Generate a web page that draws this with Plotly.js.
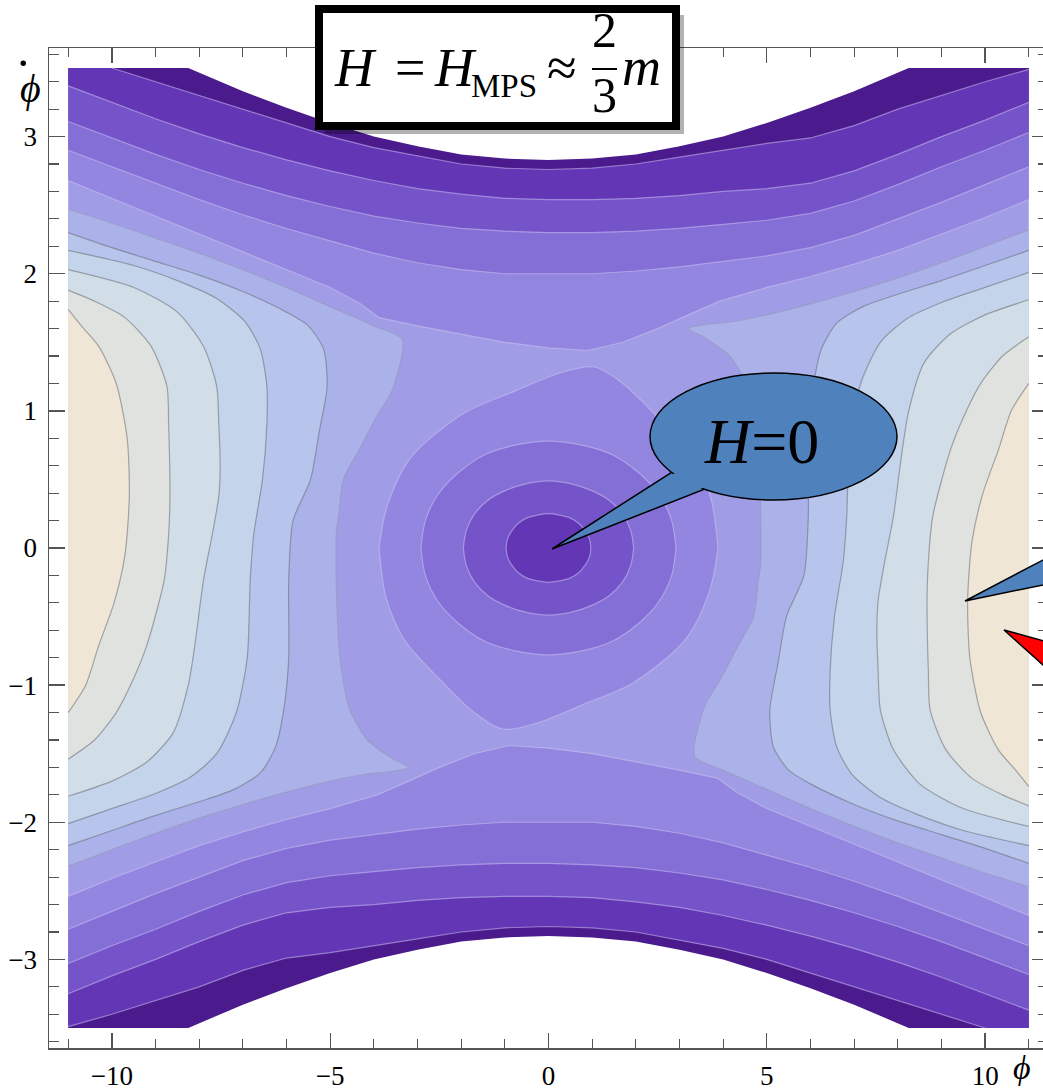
<!DOCTYPE html>
<html><head><meta charset="utf-8">
<script src="https://cdn.plot.ly/plotly-3.0.1.min.js"></script>
<style>html,body{margin:0;padding:0;overflow:hidden;background:#fff}</style>
</head><body><div id="chart"></div>
<script>
// ---------------- data: (phi, phidot) ----------------
const domainPhi = [-11, 11];
const domainPhiDot = [-3.5, 3.5];

// upper edge of the computed region (white above); lower edge is its reflection
const boundaryPhi    = [-8.25,-7,-6,-5,-4,-3,-2,-1,0,1,2,3,4,5,6,7,8.25];
const boundaryPhiDot = [3.5,3.33,3.21,3.1,3.0,2.93,2.87,2.84,2.83,2.84,2.87,2.93,3.0,3.1,3.21,3.33,3.5];

// upper cap contours; the lower ones are the point reflections (phi,phidot)->(-phi,-phidot)
const capLevels = [-0.5, -1.5, -2.5, -3.5, -4.5];
const capPhi = [
  [-11,-10,-9,-8,-7,-6,-5,-4.3,-3.88,-3,-2,-1,0,0.9,1.7,2.5,3.2,3.92,5,6,7,8,9,10,11],
  [-11,-10,-9,-8,-7,-6,-5,-4,-3,-2,-1,0,1,2,3,4,5,6,7,8,9,10,11],
  [-11,-10,-9,-8,-7,-6,-5,-4,-3,-2,-1,0,1,2,3,4,5,6,7,8,9,10,11],
  [-11,-10,-9,-8,-7,-6,-5,-4,-3,-2,-1,0,1,2,3,4,5,6,7,8,9,10,11],
  [-10,-9,-8,-7,-6,-5,-4,-3,-2,-1,0,1,2,3,4,5,6,7,8,9,10,11]
];
const capPhiDot = [
  [2.68,2.55,2.42,2.29,2.16,2.03,1.9,1.78,1.68,1.62,1.56,1.5,1.46,1.44,1.5,1.6,1.7,1.8,1.9,1.98,2.07,2.17,2.29,2.41,2.54],
  [2.9,2.78,2.66,2.54,2.43,2.33,2.24,2.15,2.08,2.03,2.0,2.0,2.0,2.02,2.05,2.09,2.13,2.19,2.28,2.4,2.52,2.65,2.78],
  [3.11,2.99,2.87,2.76,2.66,2.57,2.49,2.42,2.37,2.33,2.31,2.3,2.3,2.31,2.33,2.36,2.39,2.44,2.53,2.65,2.78,2.9,3.03],
  [3.37,3.25,3.13,3.02,2.92,2.83,2.75,2.68,2.62,2.58,2.55,2.54,2.54,2.55,2.57,2.6,2.62,2.66,2.75,2.87,3.0,3.12,3.25],
  [3.5,3.4,3.3,3.2,3.1,3.0,2.92,2.86,2.8,2.77,2.76,2.77,2.8,2.85,2.9,2.95,2.99,3.08,3.2,3.3,3.4,3.49]
];

// closed contours round the centre: upper halves; lower halves are point reflections
const ringLevels = [-0.5, -1.5, -2.5, -3.5];
const ringPhi = [
  [3.88,3.72,3.3,2.45,1.7,1.05,0.3,-0.8,-1.95,-3.15,-3.7,-3.88],
  [2.92,2.82,2.53,2.06,1.46,0.76,0,-0.76,-1.46,-2.06,-2.53,-2.82,-2.92],
  [1.95,1.88,1.69,1.38,0.98,0.5,0,-0.5,-0.98,-1.38,-1.69,-1.88,-1.95],
  [0.97,0.94,0.84,0.69,0.49,0.25,0,-0.25,-0.49,-0.69,-0.84,-0.94,-0.97]
];
const ringPhiDot = [
  [0,0.36,0.67,0.97,1.2,1.32,1.28,1.14,0.98,0.66,0.3,0],
  [0,0.2,0.39,0.55,0.68,0.75,0.78,0.75,0.68,0.55,0.39,0.2,0],
  [0,0.13,0.25,0.35,0.42,0.47,0.49,0.47,0.42,0.35,0.25,0.13,0],
  [0,0.065,0.125,0.18,0.22,0.24,0.25,0.24,0.22,0.18,0.125,0.065,0]
];

// right-hand lobe contours (edge -> edge); the left lobe is the point reflection
const lobeLevels = [0.5, 1.5, 2.5, 3.5, 4.5, 5.5];
const lobePhi = [
  [11,10,9,8,7,6,5,4.2,3.6,3.2,3.6,4.15,4.55,4.75,4.85,4.86,4.8,4.7,4.33,3.95,3.58,3.35,4,5,6,7,8,9,10,11],
  [11,10,9,8,7.2,6.6,6.25,6.05,5.95,5.95,5.85,5.45,5.25,5.07,5.15,5.5,6,7,8,9,10,11],
  [11,10,9,8.2,7.6,7.15,6.9,6.83,6.75,6.55,6.45,6.45,6.6,6.95,7.6,8.5,9.5,11],
  [11,10,9.2,8.6,8.25,8.1,7.9,7.7,7.55,7.52,7.55,7.6,7.9,8.5,9.5,11],
  [11,10.4,9.9,9.5,9.2,8.8,8.7,8.67,8.7,8.74,9.1,9.7,10.4,11],
  [11,10.6,10.3,9.95,9.7,9.6,9.65,9.9,10.3,10.7,11]
];
const lobePhiDot = [
  [2.32,2.2,2.08,1.97,1.87,1.78,1.7,1.65,1.63,1.6,1.53,1.4,1.18,0.87,0.4,-0.11,-0.25,-0.5,-0.72,-0.95,-1.15,-1.52,-1.62,-1.76,-1.9,-2.03,-2.15,-2.26,-2.37,-2.47],
  [2.17,2.06,1.95,1.85,1.76,1.64,1.45,1.15,0.8,0.23,-0.2,-0.5,-0.85,-1.18,-1.45,-1.62,-1.72,-1.87,-1.99,-2.09,-2.19,-2.3],
  [2.01,1.9,1.79,1.67,1.5,1.2,0.8,0.23,-0.1,-0.5,-0.9,-1.18,-1.45,-1.65,-1.82,-1.95,-2.06,-2.17],
  [1.81,1.7,1.56,1.35,1.0,0.71,0.23,-0.1,-0.38,-0.6,-0.9,-1.18,-1.47,-1.72,-1.9,-2.03],
  [1.54,1.4,1.2,0.95,0.71,0.23,-0.1,-0.38,-0.9,-1.18,-1.47,-1.68,-1.8,-1.88],
  [1.2,1.0,0.71,0.4,0.05,-0.38,-0.8,-1.2,-1.47,-1.62,-1.74]
];

const xTicks = [-10, -5, 0, 5, 10];
const yTicks = [-3, -2, -1, 0, 1, 2, 3];
const titleParts = {H:'<i>H</i>', eq:'=', sub:'MPS', approx:'≈', num:'2', den:'3', m:'<i>m</i>'};
const calloutText = '<i>H</i>=0';
const xLabel = '<i>ϕ</i>';

// ---------------- styles ----------------
const band = {'-5':'#4b1b8e','-4':'#6336b6','-3':'#7554ca','-2':'#846fd7','-1':'#9286e0',
  '0':'#a09de6','1':'#abb2ea','2':'#b7c5ec','3':'#c4d4eb','4':'#d1dde7','5':'#dfe2de','6':'#efe6d6'};
const lineDark = 'rgba(205,195,240,0.55)';
const lineLight = 'rgba(105,105,115,0.55)';
const serif = '"Liberation Serif", "Times New Roman", "DejaVu Serif", serif';

const refl = a => a.map(v => -v);
const traces = [];
function poly(x, y, color, smooth) {
  const ln = {width:0, color:color};
  if (smooth) { ln.shape = 'spline'; ln.smoothing = smooth; }
  traces.push({type:'scatter', mode:'lines', x, y, fill:'toself', fillcolor:color,
    line:ln, hoverinfo:'skip', showlegend:false});
}
function cline(x, y, color, smooth) {
  const ln = {width:1.2, color:color};
  if (smooth) { ln.shape = 'spline'; ln.smoothing = smooth; }
  traces.push({type:'scatter', mode:'lines', x, y, line:ln, hoverinfo:'skip', showlegend:false});
}
const yTop = domainPhiDot[1], xRight = domainPhi[1], xLeft = domainPhi[0];
const ringSmooth = 0.9, lobeSmooth = 0.7;

// base band
poly([xLeft, xRight, xRight, xLeft], [domainPhiDot[0], domainPhiDot[0], yTop, yTop], band['0']);
// darker (sub-level) regions
capLevels.forEach((lv, i) => {
  const c = band[String(lv - 0.5)];
  const px = capPhi[i].concat([xRight, xLeft]), py = capPhiDot[i].concat([yTop, yTop]);
  poly(px, py, c);
  poly(refl(px), refl(py), c);
  const r = ringLevels.indexOf(lv);
  if (r >= 0) {
    const rx = ringPhi[r].concat(refl(ringPhi[r])), ry = ringPhiDot[r].concat(refl(ringPhiDot[r]));
    poly(rx.concat([rx[0]]), ry.concat([ry[0]]), c, ringSmooth);
  }
});
// lighter (super-level) regions
lobeLevels.forEach((lv, i) => {
  const c = band[String(lv + 0.5)];
  poly(lobePhi[i], lobePhiDot[i], c, lobeSmooth);
  poly(refl(lobePhi[i]), refl(lobePhiDot[i]), c, lobeSmooth);
});
// contour lines
capLevels.forEach((lv, i) => {
  cline(capPhi[i], capPhiDot[i], lineDark);
  cline(refl(capPhi[i]), refl(capPhiDot[i]), lineDark);
});
ringLevels.forEach((lv, r) => {
  const x = ringPhi[r].concat(refl(ringPhi[r])), y = ringPhiDot[r].concat(refl(ringPhiDot[r]));
  cline(x.concat([x[0]]), y.concat([y[0]]), lineDark, ringSmooth);
});
lobeLevels.forEach((lv, i) => {
  const c = lv < 1 ? 'rgba(150,150,185,0.6)' : lineLight;
  cline(lobePhi[i], lobePhiDot[i], c, lobeSmooth);
  cline(refl(lobePhi[i]), refl(lobePhiDot[i]), c, lobeSmooth);
});
// region outside the computed domain
poly(boundaryPhi, boundaryPhiDot, '#ffffff');
poly(refl(boundaryPhi), refl(boundaryPhiDot), '#ffffff');

// ---------------- layout ----------------
const ML = 49, MT = 48, PW = 999, PH = 1000;
const X = p => (p - ML) / PW;
const Y = p => (MT + PH - p) / PH;
const frame = '#555';
const axisCommon = {ticks:'inside', tickwidth:1.3, tickcolor:frame, showline:true, linecolor:frame,
  linewidth:1.5, mirror:'ticks', showgrid:false, zeroline:false, fixedrange:true,
  tickfont:{family:serif, size:27, color:'#000'}};

const shapes = [
  {type:'rect', xref:'paper', yref:'paper', x0:X(325), x1:X(684), y0:Y(134), y1:Y(15),
   fillcolor:'rgba(0,0,0,0.3)', line:{width:0}, layer:'above'},
  {type:'rect', xref:'paper', yref:'paper', x0:X(319), x1:X(676), y0:Y(126), y1:Y(9),
   fillcolor:'#ffffff', line:{color:'#000', width:8}, layer:'above'},
  {type:'line', xref:'paper', yref:'paper', x0:X(592), x1:X(617), y0:Y(69), y1:Y(69),
   line:{color:'#000', width:2}, layer:'above'},
  // callout H=0
  {type:'path', xref:'paper', yref:'paper', layer:'above', fillcolor:'#4f81bd', line:{color:'#000', width:1.5},
   path:`M${X(552)},${Y(549)} L${X(672)},${Y(472)} L${X(705)},${Y(489)} Z`},
  {type:'circle', xref:'paper', yref:'paper', layer:'above', x0:X(650), x1:X(897), y0:Y(500), y1:Y(373),
   fillcolor:'#4f81bd', line:{color:'#000', width:1.5}},
  {type:'path', xref:'paper', yref:'paper', layer:'above', fillcolor:'#4f81bd', line:{width:0},
   path:`M${X(625)},${Y(505)} L${X(686)},${Y(466)} L${X(718)},${Y(482)} L${X(643)},${Y(511)} Z`},
  // right-hand callout pointers
  {type:'path', xref:'paper', yref:'paper', layer:'above', fillcolor:'#4f81bd', line:{color:'#000', width:1.5},
   path:`M${X(965)},${Y(601)} L${X(1062)},${Y(550)} L${X(1062)},${Y(581)} Z`},
  {type:'path', xref:'paper', yref:'paper', layer:'above', fillcolor:'#ff0000', line:{color:'#000', width:1.5},
   path:`M${X(1004)},${Y(630)} L${X(1062)},${Y(646)} L${X(1062)},${Y(682)} Z`},
  // dot of phi-dot
  {type:'circle', xref:'paper', yref:'paper', layer:'above', x0:X(20.5), x1:X(26), y0:Y(66), y1:Y(60.5),
   fillcolor:'#000', line:{width:0}}
];

function ann(text, px, py, size, extra) {
  return Object.assign({text, xref:'paper', yref:'paper', x:X(px), y:Y(py), xanchor:'center', yanchor:'middle',
    showarrow:false, font:{family:serif, size, color:'#000'}}, extra || {});
}
const annotations = [
  ann(titleParts.H, 355, 68, 54),
  ann(titleParts.eq, 410, 68, 54),
  ann(titleParts.H, 455, 68, 54),
  ann(titleParts.sub, 504, 86, 33),
  ann(titleParts.approx, 562, 68, 54),
  ann(titleParts.num, 604, 30, 50),
  ann(titleParts.den, 604, 95, 50),
  ann(titleParts.m, 641, 67, 54),
  ann(calloutText, 761, 441, 64),
  ann(xLabel, 30, 88, 40),
  ann(xLabel, 1022, 1067, 34)
];

const layout = {
  width:1060, height:1092, margin:{l:ML, r:12, t:MT, b:44},
  paper_bgcolor:'#fff', plot_bgcolor:'#fff', showlegend:false,
  font:{family:serif},
  xaxis:Object.assign({}, axisCommon, {range:[-11.44, 11.44], tickmode:'array', tickvals:xTicks, ticklen:15,
    ticklabelstandoff:3,
    minor:{tickmode:'linear', tick0:0, dtick:1, ticks:'inside', ticklen:9, tickwidth:1.1, tickcolor:frame, showgrid:false}}),
  yaxis:Object.assign({}, axisCommon, {range:[-3.646, 3.646], tickmode:'array', tickvals:yTicks, ticklen:16,
    ticklabelstandoff:5,
    minor:{tickmode:'linear', tick0:0, dtick:0.2, ticks:'inside', ticklen:10, tickwidth:1.1, tickcolor:frame, showgrid:false}}),
  shapes, annotations
};

Plotly.newPlot('chart', traces, layout, {staticPlot:true, displayModeBar:false});
</script></body></html>
